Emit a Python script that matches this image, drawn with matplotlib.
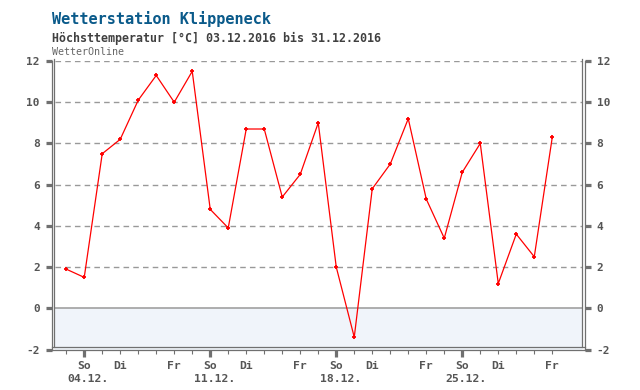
import matplotlib
matplotlib.use('Agg')
import matplotlib.pyplot as plt
import matplotlib.transforms as mtransforms
from matplotlib.lines import Line2D

# ---------------- data ----------------
dates = ['03.12.', '04.12.', '05.12.', '06.12.', '07.12.', '08.12.', '09.12.',
         '10.12.', '11.12.', '12.12.', '13.12.', '14.12.', '15.12.', '16.12.',
         '17.12.', '18.12.', '19.12.', '20.12.', '21.12.', '22.12.', '23.12.',
         '24.12.', '25.12.', '26.12.', '27.12.', '28.12.', '29.12.', '30.12.']
tmax = [1.9, 1.5, 7.5, 8.2, 10.1, 11.3, 10.0,
        11.5, 4.8, 3.9, 8.7, 8.7, 5.4, 6.5,
        9.0, 2.0, -1.4, 5.8, 7.0, 9.2, 5.3,
        3.4, 6.6, 8.0, 1.2, 3.6, 2.5, 8.3]
weekday_cycle = ['Sa', 'So', 'Mo', 'Di', 'Mi', 'Do', 'Fr']
shown_weekdays = ['So', 'Di', 'Fr']
yticks = [-2, 0, 2, 4, 6, 8, 10, 12]

title = 'Wetterstation Klippeneck'
subtitle = 'Höchsttemperatur [°C] 03.12.2016 bis 31.12.2016'
source = 'WetterOnline'

# ---------------- figure ----------------
W, H = 640, 390
DPI = 100
fig = plt.figure(figsize=(W / DPI, H / DPI), dpi=DPI)
fig.patch.set_facecolor('white')

def fx(px):
    return px / W

def fy(py):
    return 1 - py / H

L, R, T, B = 52, 584.5, 61, 349.5
ax = fig.add_axes([fx(L), fy(B), fx(R) - fx(L), fy(T) - fy(B)])
ax.set_facecolor('white')

x = list(range(len(dates)))
ax.set_xlim(-0.79, 28.79)
ax.set_ylim(-2, 12)

frame_col = '#707070'
text_col = '#555555'
mono = 'DejaVu Sans Mono'

# spines (outer)
for s in ['left', 'bottom', 'right']:
    ax.spines[s].set_color(frame_col)
    ax.spines[s].set_linewidth(0.9)
ax.spines['top'].set_visible(False)

# inner frame lines, 2 px inside
def off(dx, dy):
    return ax.transAxes + mtransforms.ScaledTranslation(dx / DPI, dy / DPI, fig.dpi_scale_trans)

ax.add_line(Line2D([0, 0], [0, 1], transform=off(2.2, 2.2), color=frame_col, lw=0.9, clip_on=False, zorder=5))
ax.add_line(Line2D([1, 1], [0, 1], transform=off(-2.2, 2.2), color=frame_col, lw=0.9, clip_on=False, zorder=5))
ax.add_line(Line2D([0, 1], [0, 0], transform=ax.transAxes + mtransforms.ScaledTranslation(0, 2.2 / DPI, fig.dpi_scale_trans),
                   color=frame_col, lw=0.9, clip_on=False, zorder=5))

# light-blue area below zero
fr = 2.5 / (R - L)
ax.axhspan(-2, 0, xmin=fr, xmax=1 - fr, color='#f0f4fa', zorder=0, lw=0)
ax.axhline(0, xmin=fr, xmax=1 - fr, color='#999999', lw=1.1, zorder=1)

# dashed grid
for v in yticks:
    if v > 0:
        ax.axhline(v, xmin=fr, xmax=1 - fr, color='#999999', lw=1.0,
                   dashes=(4.0, 3.0), zorder=1)

# data line
ax.plot(x, tmax, color='#ff0000', lw=0.9, zorder=3, clip_on=False)
ax.plot(x, tmax, ls='none', marker='+', ms=3.2, mew=1.3, color='#ff0000', zorder=4, clip_on=False)

# y ticks both sides
ax.set_yticks(yticks)
ax.set_yticklabels([str(v) for v in yticks])
ax.tick_params(axis='y', which='major', left=True, right=True, labelleft=True, labelright=True,
               direction='out', length=4.3, width=2.3, color=frame_col, pad=4.5,
               labelcolor=text_col, labelsize=8)
for lab in ax.get_yticklabels():
    lab.set_fontfamily(mono)
    lab.set_fontweight('bold')

# x ticks
sundays = [i for i in x if weekday_cycle[i % 7] == 'So']
ax.set_xticks(sundays)
ax.set_xticks(x, minor=True)
ax.tick_params(axis='x', which='major', length=5.2, width=2.3, color=frame_col, labelbottom=False, direction='out')
ax.tick_params(axis='x', which='minor', length=3.0, width=0.8, color=frame_col, direction='out')

blend = mtransforms.blended_transform_factory(ax.transData, fig.transFigure)
date_shift = blend + mtransforms.ScaledTranslation(4.0 / DPI, 0, fig.dpi_scale_trans)
for i in x:
    wd = weekday_cycle[i % 7]
    if wd in shown_weekdays:
        ax.text(i, fy(366), wd, transform=blend, ha='center', va='center',
                fontsize=8.2, fontweight='bold', family=mono, color=text_col)
    if wd == 'So':
        ax.text(i, fy(379), dates[i], transform=date_shift, ha='center', va='center',
                fontsize=8.2, fontweight='bold', family=mono, color=text_col)

# titles
fig.text(fx(52), fy(19), title, ha='left', va='center', fontsize=11, fontweight='bold',
         family=mono, color='#0a5a8a')
fig.text(fx(52), fy(38.5), subtitle, ha='left', va='center', fontsize=8.4, fontweight='bold',
         family=mono, color='#404040')
fig.text(fx(52), fy(52), source, ha='left', va='center', fontsize=7.2,
         family=mono, color='#666666')

fig.savefig('out.png', dpi=DPI, facecolor='white')
